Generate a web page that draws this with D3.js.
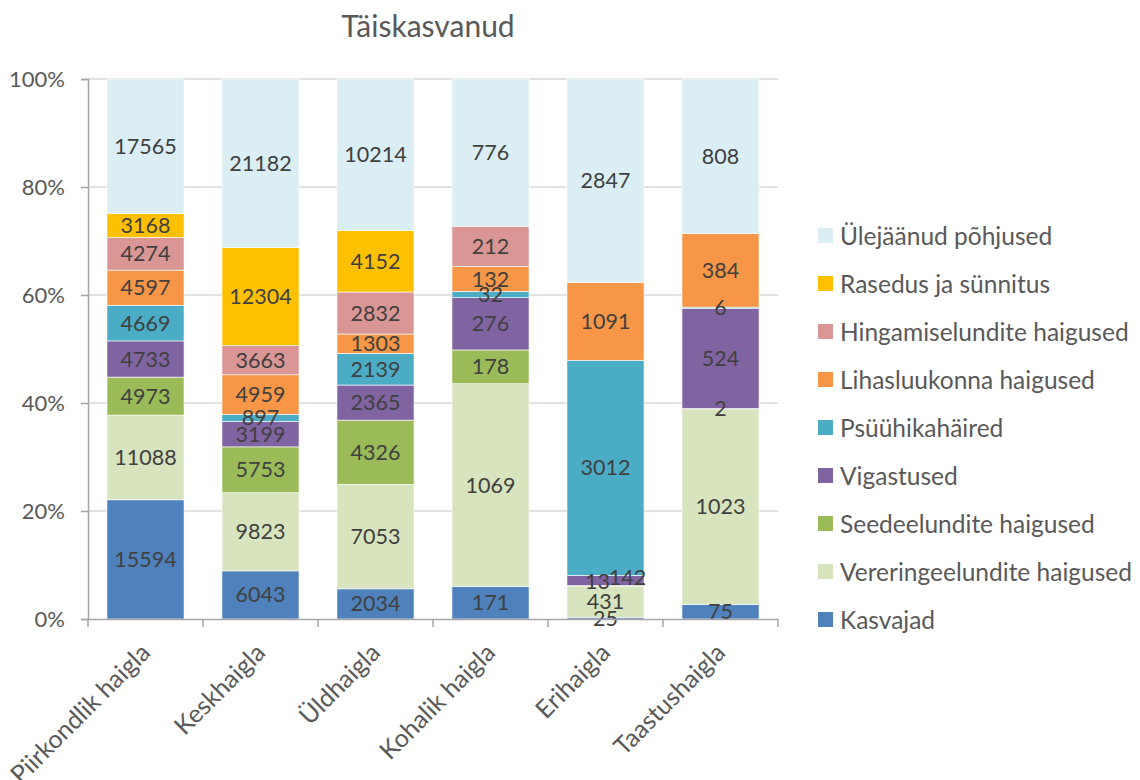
<!DOCTYPE html>
<html>
<head>
<meta charset="utf-8">
<script src="https://cdn.jsdelivr.net/npm/d3@7"></script>
<style>
  body { margin: 0; background: #fff; }
  text { font-family: Lato, "Open Sans", sans-serif; }
</style>
</head>
<body>
<svg id="chart" width="1140" height="780"></svg>
<script>
// categories along the x axis
let hospitals = ['Piirkondlik haigla', 'Keskhaigla', 'Üldhaigla', 'Kohalik haigla', 'Erihaigla', 'Taastushaigla']

// series, bottom to top of the stack
let causes = ['Kasvajad', 'Vereringeelundite haigused', 'Seedeelundite haigused', 'Vigastused',
  'Psüühikahäired', 'Lihasluukonna haigused', 'Hingamiselundite haigused', 'Rasedus ja sünnitus', 'Ülejäänud põhjused']

let kasvajad     = [15594, 6043, 2034, 171, 25, 75]
let vereringe    = [11088, 9823, 7053, 1069, 431, 1023]
let seedeelundid = [4973, 5753, 4326, 178, 13, 2]
let vigastused   = [4733, 3199, 2365, 276, 142, 524]
let psyyhika     = [4669, 897, 2139, 32, 3012, 6]
let lihasluu     = [4597, 4959, 1303, 132, 1091, 384]
let hingamine    = [4274, 3663, 2832, 212, 0, 0]
let rasedus      = [3168, 12304, 4152, 0, 0, 0]
let ylejaanud    = [17565, 21182, 10214, 776, 2847, 808]

let yTicks = [0, 0.2, 0.4, 0.6, 0.8, 1]

let series = [kasvajad, vereringe, seedeelundid, vigastused, psyyhika, lihasluu, hingamine, rasedus, ylejaanud]
let colors = ['#4f81bd', '#d7e4bd', '#9bbb59', '#8064a2', '#4bacc6', '#f79646', '#da9694', '#ffc000', '#daeef3']

// labels that Excel pushed aside because they collide
let labelNudge = { 'Erihaigla|Vigastused': [22, -3], 'Erihaigla|Seedeelundite haigused': [-8, -4] }

let svg = d3.select('#chart')
let plotLeft = 88, plotRight = 778, plotTop = 79, plotBottom = 619

// build the table for d3.stack
let rows = hospitals.map((h, i) => {
  let row = { hospital: h }
  causes.forEach((c, j) => { row[c] = series[j][i] })
  return row
})

let stacked = d3.stack().keys(causes).offset(d3.stackOffsetExpand)(rows)

let x = d3.scaleBand().domain(hospitals).range([plotLeft, plotRight]).paddingInner(0.33).paddingOuter(0.165)
let y = d3.scaleLinear().domain([0, 1]).range([plotBottom, plotTop])
let color = d3.scaleOrdinal().domain(causes).range(colors)

// gridlines
svg.append('g')
  .selectAll('line')
  .data(yTicks.slice(1))
  .join('line')
  .attr('x1', plotLeft).attr('x2', plotRight)
  .attr('y1', d => y(d)).attr('y2', d => y(d))
  .attr('stroke', '#d9d9d9').attr('stroke-width', 1.5)

// bars
svg.append('g')
  .selectAll('g')
  .data(stacked)
  .join('g')
  .attr('fill', d => color(d.key))
  .selectAll('rect')
  .data(d => d)
  .join('rect')
  .attr('x', d => x(d.data.hospital))
  .attr('y', d => y(d[1]))
  .attr('width', x.bandwidth())
  .attr('height', d => Math.max(0, y(d[0]) - y(d[1])))
  .attr('stroke', '#fff')
  .attr('stroke-width', 0.6)

// data labels, drawn over all bars
let labels = []
stacked.forEach(layer => {
  layer.forEach(p => {
    let v = p.data[layer.key]
    if (v > 0) labels.push({ p: p, v: v, key: layer.key })
  })
})

svg.append('g')
  .selectAll('text')
  .data(labels)
  .join('text')
  .attr('x', d => {
    let n = labelNudge[d.p.data.hospital + '|' + d.key]
    return x(d.p.data.hospital) + x.bandwidth() / 2 + (n ? n[0] : 0)
  })
  .attr('y', d => {
    let n = labelNudge[d.p.data.hospital + '|' + d.key]
    return y((d.p[0] + d.p[1]) / 2) + (n ? n[1] : 0)
  })
  .attr('dy', '0.35em')
  .attr('text-anchor', 'middle')
  .attr('fill', '#404040')
  .style('font-size', '21.5px')
  .text(d => d.v)

// y axis
let yAxis = svg.append('g')
  .attr('transform', `translate(${plotLeft},0)`)
  .call(d3.axisLeft(y).tickValues(yTicks).tickFormat(d3.format('.0%')).tickSize(7).tickPadding(16))
yAxis.select('.domain').attr('stroke', '#a6a6a6').attr('stroke-width', 1.5)
yAxis.selectAll('.tick line').attr('stroke', '#a6a6a6').attr('stroke-width', 1.5)
yAxis.selectAll('.tick text').attr('fill', '#595959').style('font-size', '22px')

// x axis
let xAxis = svg.append('g')
  .attr('transform', `translate(0,${plotBottom})`)
  .call(d3.axisBottom(x).tickSize(0).tickSizeOuter(0))
xAxis.select('.domain').attr('stroke', '#a6a6a6').attr('stroke-width', 1.5)
xAxis.selectAll('.tick text')
  .attr('fill', '#595959')
  .style('font-size', '25px')
  .attr('text-anchor', 'end')
  .attr('transform', 'translate(-2,27) rotate(-45)')
  .attr('dy', '0.35em')

// category separator ticks
let edges = hospitals.map(h => x(h) - x.step() * x.paddingInner() / 2).concat([plotRight])
xAxis.selectAll('.sep')
  .data(edges)
  .join('line')
  .attr('class', 'sep')
  .attr('x1', d => d).attr('x2', d => d)
  .attr('y1', 0).attr('y2', 8)
  .attr('stroke', '#a6a6a6').attr('stroke-width', 1.5)

// title
svg.append('text')
  .attr('x', 428).attr('y', 37)
  .attr('text-anchor', 'middle')
  .attr('fill', '#595959')
  .style('font-size', '30px')
  .text('Täiskasvanud')

// legend, top item is the top of the stack
let legend = svg.append('g')
  .selectAll('g')
  .data(causes.slice().reverse())
  .join('g')
  .attr('transform', (d, i) => `translate(818,${236 + i * 48})`)

legend.append('rect')
  .attr('x', 0).attr('y', -8)
  .attr('width', 15).attr('height', 15)
  .attr('fill', d => color(d))

legend.append('text')
  .attr('x', 22).attr('y', 0)
  .attr('dy', '0.35em')
  .attr('fill', '#595959')
  .style('font-size', '24.5px')
  .text(d => d)
</script>
</body>
</html>
